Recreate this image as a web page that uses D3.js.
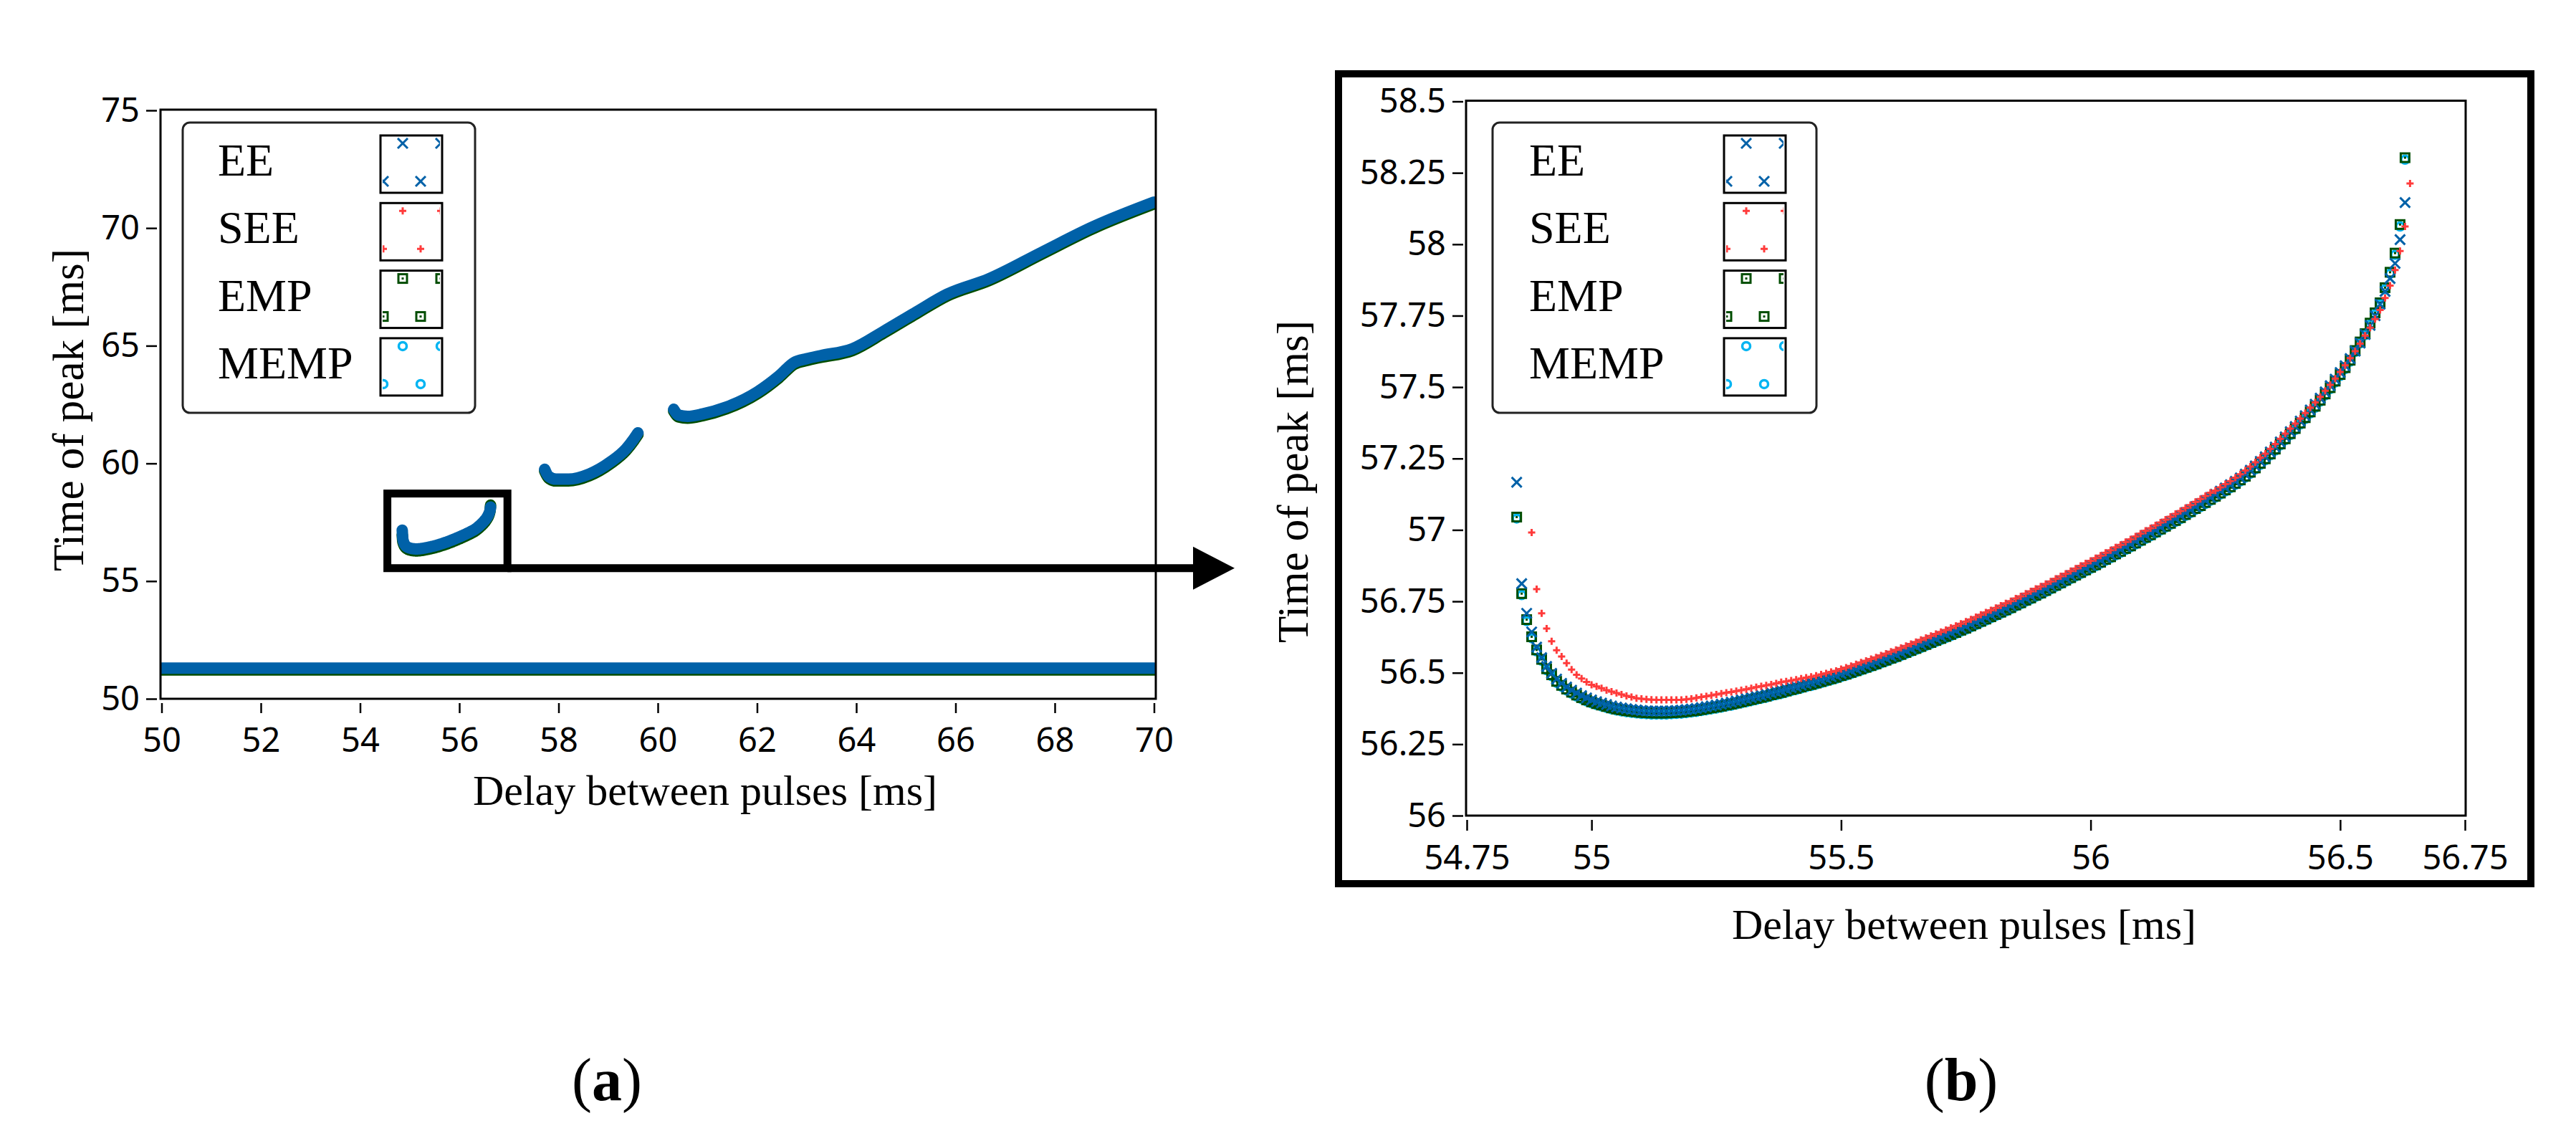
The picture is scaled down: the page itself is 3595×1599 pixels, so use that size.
<!DOCTYPE html>
<html>
<head>
<meta charset="utf-8">
<script src="https://cdn.jsdelivr.net/npm/d3@7"></script>
<style>
  body { margin: 0; background: #fff; }
</style>
</head>
<body>
<svg width="3595" height="1599"></svg>
<script>
// ---- data ----
const methods = ["EE", "SEE", "EMP", "MEMP"];

// panel (b): delay grid and time of peak for every method
const delayB = [
  54.85,54.86,54.87,54.88,54.89,54.90,54.91,54.92,54.93,54.94,
  54.95,54.96,54.97,54.98,54.99,55.00,55.01,55.02,55.03,55.04,
  55.05,55.06,55.07,55.08,55.09,55.10,55.11,55.12,55.13,55.14,
  55.15,55.16,55.17,55.18,55.19,55.20,55.21,55.22,55.23,55.24,
  55.25,55.26,55.27,55.28,55.29,55.30,55.31,55.32,55.33,55.34,
  55.35,55.36,55.37,55.38,55.39,55.40,55.41,55.42,55.43,55.44,
  55.45,55.46,55.47,55.48,55.49,55.50,55.51,55.52,55.53,55.54,
  55.55,55.56,55.57,55.58,55.59,55.60,55.61,55.62,55.63,55.64,
  55.65,55.66,55.67,55.68,55.69,55.70,55.71,55.72,55.73,55.74,
  55.75,55.76,55.77,55.78,55.79,55.80,55.81,55.82,55.83,55.84,
  55.85,55.86,55.87,55.88,55.89,55.90,55.91,55.92,55.93,55.94,
  55.95,55.96,55.97,55.98,55.99,56.00,56.01,56.02,56.03,56.04,
  56.05,56.06,56.07,56.08,56.09,56.10,56.11,56.12,56.13,56.14,
  56.15,56.16,56.17,56.18,56.19,56.20,56.21,56.22,56.23,56.24,
  56.25,56.26,56.27,56.28,56.29,56.30,56.31,56.32,56.33,56.34,
  56.35,56.36,56.37,56.38,56.39,56.40,56.41,56.42,56.43,56.44,
  56.45,56.46,56.47,56.48,56.49,56.50,56.51,56.52,56.53,56.54,
  56.55,56.56,56.57,56.58,56.59,56.60,56.61,56.62,56.63,56.64
];

const peakEE = [
  57.167,56.812,56.708,56.643,56.590,56.553,56.522,56.498,56.478,56.463,
  56.450,56.439,56.429,56.420,56.412,56.405,56.399,56.394,56.389,56.384,
  56.380,56.377,56.374,56.372,56.370,56.368,56.367,56.366,56.366,56.366,
  56.366,56.367,56.368,56.369,56.371,56.373,56.375,56.378,56.381,56.384,
  56.387,56.390,56.394,56.397,56.401,56.405,56.409,56.413,56.417,56.421,
  56.425,56.430,56.434,56.438,56.443,56.448,56.452,56.457,56.462,56.466,
  56.471,56.476,56.481,56.486,56.491,56.497,56.502,56.508,56.514,56.520,
  56.526,56.532,56.538,56.545,56.551,56.558,56.564,56.571,56.578,56.585,
  56.592,56.599,56.606,56.613,56.620,56.627,56.634,56.641,56.648,56.656,
  56.663,56.671,56.679,56.687,56.695,56.703,56.711,56.719,56.727,56.735,
  56.744,56.752,56.761,56.769,56.778,56.786,56.795,56.804,56.813,56.822,
  56.831,56.840,56.849,56.858,56.867,56.876,56.885,56.894,56.904,56.913,
  56.923,56.932,56.942,56.951,56.961,56.971,56.981,56.990,57.000,57.010,
  57.020,57.030,57.040,57.050,57.061,57.071,57.082,57.092,57.103,57.114,
  57.125,57.136,57.147,57.158,57.170,57.182,57.195,57.209,57.224,57.240,
  57.256,57.273,57.290,57.308,57.326,57.344,57.362,57.381,57.400,57.420,
  57.440,57.461,57.483,57.505,57.528,57.551,57.575,57.600,57.626,57.654,
  57.684,57.716,57.750,57.790,57.835,57.880,57.933,58.016,58.146,null
];

const peakSEE = [
  null,null,null,56.991,56.793,56.708,56.655,56.610,56.579,56.557,
  56.534,56.511,56.493,56.480,56.468,56.458,56.452,56.446,56.439,56.434,
  56.429,56.424,56.419,56.415,56.411,56.409,56.407,56.406,56.405,56.405,
  56.405,56.405,56.405,56.405,56.407,56.409,56.412,56.415,56.418,56.421,
  56.424,56.427,56.430,56.433,56.436,56.439,56.442,56.446,56.450,56.453,
  56.456,56.459,56.463,56.467,56.470,56.473,56.476,56.480,56.483,56.486,
  56.490,56.494,56.498,56.503,56.507,56.513,56.518,56.524,56.530,56.536,
  56.542,56.548,56.554,56.561,56.567,56.574,56.580,56.587,56.594,56.601,
  56.608,56.615,56.622,56.629,56.636,56.643,56.650,56.657,56.664,56.672,
  56.679,56.687,56.695,56.703,56.711,56.719,56.727,56.735,56.743,56.751,
  56.760,56.768,56.777,56.785,56.794,56.802,56.811,56.820,56.829,56.838,
  56.847,56.856,56.865,56.874,56.883,56.892,56.901,56.910,56.920,56.929,
  56.939,56.948,56.958,56.967,56.977,56.987,56.997,57.006,57.016,57.026,
  57.036,57.046,57.056,57.066,57.077,57.087,57.098,57.108,57.119,57.130,
  57.138,57.149,57.160,57.171,57.183,57.195,57.208,57.222,57.237,57.253,
  57.267,57.284,57.301,57.319,57.337,57.355,57.372,57.390,57.409,57.428,
  57.446,57.466,57.487,57.508,57.530,57.553,57.576,57.601,57.626,57.652,
  57.680,57.708,57.738,57.770,57.812,57.855,57.910,57.976,58.062,58.213
];

const peakEMP = [
  57.045,56.777,56.686,56.626,56.580,56.547,56.514,56.493,56.470,56.456,
  56.443,56.432,56.422,56.413,56.405,56.398,56.392,56.387,56.382,56.377,
  56.373,56.370,56.367,56.365,56.363,56.361,56.360,56.359,56.359,56.359,
  56.359,56.360,56.361,56.362,56.364,56.366,56.368,56.371,56.374,56.377,
  56.380,56.383,56.387,56.390,56.394,56.398,56.402,56.406,56.410,56.414,
  56.418,56.423,56.427,56.431,56.436,56.441,56.445,56.450,56.455,56.459,
  56.464,56.469,56.474,56.479,56.484,56.490,56.495,56.501,56.507,56.513,
  56.519,56.525,56.531,56.538,56.544,56.551,56.557,56.564,56.571,56.578,
  56.585,56.592,56.599,56.606,56.613,56.620,56.627,56.634,56.641,56.649,
  56.656,56.664,56.672,56.680,56.688,56.696,56.704,56.712,56.720,56.728,
  56.737,56.745,56.754,56.762,56.771,56.779,56.788,56.797,56.806,56.815,
  56.824,56.833,56.842,56.851,56.860,56.869,56.878,56.887,56.897,56.906,
  56.916,56.925,56.935,56.944,56.954,56.964,56.974,56.983,56.993,57.003,
  57.013,57.023,57.033,57.043,57.054,57.064,57.075,57.085,57.096,57.107,
  57.118,57.129,57.140,57.151,57.163,57.175,57.188,57.202,57.217,57.233,
  57.249,57.266,57.283,57.301,57.319,57.337,57.355,57.374,57.393,57.413,
  57.433,57.454,57.476,57.498,57.521,57.544,57.568,57.594,57.628,57.658,
  57.687,57.724,57.760,57.795,57.848,57.902,57.969,58.069,58.303,null
];

const peakMEMP = [
  57.040,56.772,56.681,56.621,56.575,56.542,56.509,56.488,56.465,56.451,
  56.438,56.427,56.417,56.408,56.400,56.393,56.387,56.382,56.377,56.372,
  56.368,56.365,56.362,56.360,56.358,56.356,56.355,56.354,56.354,56.354,
  56.354,56.355,56.356,56.357,56.359,56.361,56.363,56.366,56.369,56.372,
  56.375,56.378,56.382,56.385,56.389,56.393,56.397,56.401,56.405,56.409,
  56.413,56.418,56.422,56.426,56.431,56.436,56.440,56.445,56.450,56.454,
  56.459,56.464,56.469,56.474,56.479,56.485,56.490,56.496,56.502,56.508,
  56.514,56.520,56.526,56.533,56.539,56.546,56.552,56.559,56.566,56.573,
  56.580,56.587,56.594,56.601,56.608,56.615,56.622,56.629,56.636,56.644,
  56.651,56.659,56.667,56.675,56.683,56.691,56.699,56.707,56.715,56.723,
  56.732,56.740,56.749,56.757,56.766,56.774,56.783,56.792,56.801,56.810,
  56.819,56.828,56.837,56.846,56.855,56.864,56.873,56.882,56.892,56.901,
  56.911,56.920,56.930,56.939,56.949,56.959,56.969,56.978,56.988,56.998,
  57.008,57.018,57.028,57.038,57.049,57.059,57.070,57.080,57.091,57.102,
  57.113,57.124,57.135,57.146,57.158,57.170,57.183,57.197,57.212,57.228,
  57.244,57.261,57.278,57.296,57.314,57.332,57.350,57.369,57.388,57.408,
  57.428,57.449,57.471,57.493,57.516,57.539,57.563,57.589,57.623,57.653,
  57.682,57.719,57.755,57.790,57.843,57.897,57.963,58.062,58.296,null
];

// panel (a): the other branches (all methods overlap at this scale)
const branch2 = [[57.72,59.75],[57.8,59.45],[57.95,59.33],[58.2,59.33],[58.62,59.55],
  [59.05,60.07],[59.36,60.62],[59.52,61.05],[59.6,61.3]];
const branch3 = [[60.32,62.3],[60.42,62.05],[60.6,62.0],[60.9,62.1],[61.38,62.39],
  [62.01,63.04],[62.44,63.71],[62.75,64.29],[63.0,64.45],[63.28,64.58],[63.92,64.87],
  [64.55,65.61],[65.19,66.41],[65.83,67.19],[66.67,67.84],[67.73,68.96],[68.79,70.07],[70,71.1]];
const firstPeak = [[50,51.3],[70,51.3]];
const zoomRegion = [[54.55,55.55],[56.97,58.72]];

const ticksAx = [50,52,54,56,58,60,62,64,66,68,70];
const ticksAy = [50,55,60,65,70,75];
const ticksBx = [54.75,55,55.5,56,56.5,56.75];
const ticksBy = [56,56.25,56.5,56.75,57,57.25,57.5,57.75,58,58.25,58.5];

// ---- drawing ----
const svg = d3.select("svg");
const serif = "'Liberation Serif','Times New Roman',serif";
const sans = "'Noto Sans','Open Sans',sans-serif";
const colors = { EE: "#0061a8", SEE: "#ff3b3b", EMP: "#004d00", MEMP: "#00b4f2" };
const peaks = { EE: peakEE, SEE: peakSEE, EMP: peakEMP, MEMP: peakMEMP };

svg.append("rect").attr("width", 3595).attr("height", 1599).attr("fill", "#fff");

const markerShape = {
  EE: (g) => g.append("path").attr("d", "M-7,-7L7,7M-7,7L7,-7")
    .attr("fill", "none").attr("stroke", colors.EE).attr("stroke-width", 3),
  SEE: (g) => g.append("path").attr("d", "M-5,0H5M0,-5V5")
    .attr("fill", "none").attr("stroke", colors.SEE).attr("stroke-width", 3),
  EMP: (g) => {
    g.append("rect").attr("x", -6).attr("y", -6).attr("width", 12).attr("height", 12)
      .attr("fill", "none").attr("stroke", colors.EMP).attr("stroke-width", 3);
    g.append("rect").attr("x", -1.5).attr("y", -1.5).attr("width", 3).attr("height", 3)
      .attr("fill", colors.EMP);
  },
  MEMP: (g) => g.append("circle").attr("r", 5.5)
    .attr("fill", "none").attr("stroke", colors.MEMP).attr("stroke-width", 3.5),
};

const pointsOf = (name) =>
  delayB.map((d, i) => [d, peaks[name][i]]).filter((p) => p[1] != null);

const styleAxis = (g) => {
  g.select(".domain").remove();
  g.selectAll(".tick line").attr("stroke", "#000").attr("stroke-width", 2.5);
  g.selectAll(".tick text").attr("fill", "#000").attr("font-family", sans).attr("font-size", 47);
};

const legend = (x0, w, textX, swX) => {
  const g = svg.append("g");
  g.append("rect").attr("x", x0).attr("y", 171).attr("width", w).attr("height", 405)
    .attr("rx", 10).attr("fill", "#fff").attr("stroke", "#222").attr("stroke-width", 3);
  methods.forEach((m, i) => {
    const top = 189 + i * 94.3;
    g.append("text").attr("x", textX).attr("y", 245 + i * 94.3)
      .attr("font-family", serif).attr("font-size", 64).text(m);
    const id = `sw-${x0}-${i}`;
    g.append("clipPath").attr("id", id)
      .append("rect").attr("x", swX + 3).attr("y", top + 3).attr("width", 80).attr("height", 74);
    g.append("g").attr("clip-path", `url(#${id})`)
      .selectAll("g").data([[31, 11], [84, 11], [4, 64], [56, 64]]).join("g")
      .attr("transform", (d) => `translate(${swX + d[0]},${top + d[1]})`)
      .each(function () { markerShape[m](d3.select(this)); });
    g.append("rect").attr("x", swX).attr("y", top).attr("width", 86).attr("height", 80)
      .attr("fill", "none").attr("stroke", "#000").attr("stroke-width", 3);
  });
};

// ---------- panel (a) ----------
const xA = d3.scaleLinear().domain([50, 70]).range([225.5, 1610.5]);
const yA = d3.scaleLinear().domain([50, 75]).range([975, 154]);

svg.append("clipPath").attr("id", "clipA")
  .append("rect").attr("x", 225).attr("y", 154).attr("width", 1387).attr("height", 820);

const lineA = d3.line().x((d) => xA(d[0])).y((d) => yA(d[1])).curve(d3.curveMonotoneX);
const plotA = svg.append("g").attr("clip-path", "url(#clipA)");
const branchesEE = [firstPeak, pointsOf("EE"), branch2, branch3];
const branchesEMP = [firstPeak, pointsOf("EMP"), branch2, branch3];

plotA.append("g").attr("transform", "translate(0,2.5)")
  .selectAll("path").data(branchesEMP).join("path")
  .attr("d", lineA).attr("fill", "none").attr("stroke", colors.EMP)
  .attr("stroke-width", 16).attr("stroke-linecap", "round").attr("stroke-linejoin", "round");
plotA.append("g")
  .selectAll("path").data(branchesEE).join("path")
  .attr("d", lineA).attr("fill", "none").attr("stroke", colors.EE)
  .attr("stroke-width", 16).attr("stroke-linecap", "round").attr("stroke-linejoin", "round");

svg.append("rect").attr("x", 224).attr("y", 153).attr("width", 1389).attr("height", 822)
  .attr("fill", "none").attr("stroke", "#000").attr("stroke-width", 3);

svg.append("g").attr("transform", "translate(0,981)")
  .call(d3.axisBottom(xA).tickValues(ticksAx).tickSize(14).tickPadding(21))
  .call(styleAxis);
svg.append("g").attr("transform", "translate(219,0)")
  .call(d3.axisLeft(yA).tickValues(ticksAy).tickSize(15).tickPadding(9))
  .call(styleAxis);

svg.append("text").attr("x", 984).attr("y", 1123).attr("text-anchor", "middle")
  .attr("font-family", serif).attr("font-size", 60).text("Delay between pulses [ms]");
svg.append("text").attr("transform", "translate(116,572) rotate(-90)").attr("text-anchor", "middle")
  .attr("font-family", serif).attr("font-size", 61).text("Time of peak [ms]");

legend(255, 408, 304, 531);

// zoom box and arrow
const bx0 = xA(zoomRegion[0][0]), bx1 = xA(zoomRegion[1][0]);
const by0 = yA(zoomRegion[1][1]), by1 = yA(zoomRegion[0][1]);
svg.append("rect").attr("x", bx0).attr("y", by0).attr("width", bx1 - bx0).attr("height", by1 - by0)
  .attr("fill", "none").attr("stroke", "#000").attr("stroke-width", 11);
svg.append("line").attr("x1", bx1).attr("x2", 1668).attr("y1", by1).attr("y2", by1)
  .attr("stroke", "#000").attr("stroke-width", 11);
svg.append("path").attr("d", `M1665,${by1 - 30}L1723,${by1}L1665,${by1 + 30}Z`).attr("fill", "#000");

// ---------- panel (b) ----------
svg.append("rect").attr("x", 1868).attr("y", 103).attr("width", 1664).attr("height", 1130)
  .attr("fill", "none").attr("stroke", "#000").attr("stroke-width", 10);

const xB = d3.scaleLinear().domain([54.75, 56.75]).range([2047, 3440]);
const yB = d3.scaleLinear().domain([56, 58.5]).range([1138, 141.5]);

["MEMP", "EMP", "EE", "SEE"].forEach((m) => {
  svg.append("g").selectAll("g").data(pointsOf(m)).join("g")
    .attr("transform", (d) => `translate(${xB(d[0])},${yB(d[1])})`)
    .each(function () { markerShape[m](d3.select(this)); });
});

svg.append("rect").attr("x", 2046).attr("y", 140.5).attr("width", 1395).attr("height", 997.5)
  .attr("fill", "none").attr("stroke", "#000").attr("stroke-width", 3);

svg.append("g").attr("transform", "translate(0,1144)")
  .call(d3.axisBottom(xB).tickValues(ticksBx).tickSize(15).tickPadding(21).tickFormat((d) => String(d)))
  .call(styleAxis);
svg.append("g").attr("transform", "translate(2042,0)")
  .call(d3.axisLeft(yB).tickValues(ticksBy).tickSize(15).tickPadding(9).tickFormat((d) => String(d)))
  .call(styleAxis);

svg.append("text").attr("x", 2741).attr("y", 1310).attr("text-anchor", "middle")
  .attr("font-family", serif).attr("font-size", 60).text("Delay between pulses [ms]");
svg.append("text").attr("transform", "translate(1825,672) rotate(-90)").attr("text-anchor", "middle")
  .attr("font-family", serif).attr("font-size", 61).text("Time of peak [ms]");

legend(2083, 452, 2134, 2406);

// panel captions
[["a", 847], ["b", 2737]].forEach(([k, x]) => {
  const t = svg.append("text").attr("x", x).attr("y", 1535).attr("text-anchor", "middle")
    .attr("font-family", serif).attr("font-size", 84);
  t.append("tspan").text("(");
  t.append("tspan").attr("font-weight", "bold").text(k);
  t.append("tspan").text(")");
});
</script>
</body>
</html>
